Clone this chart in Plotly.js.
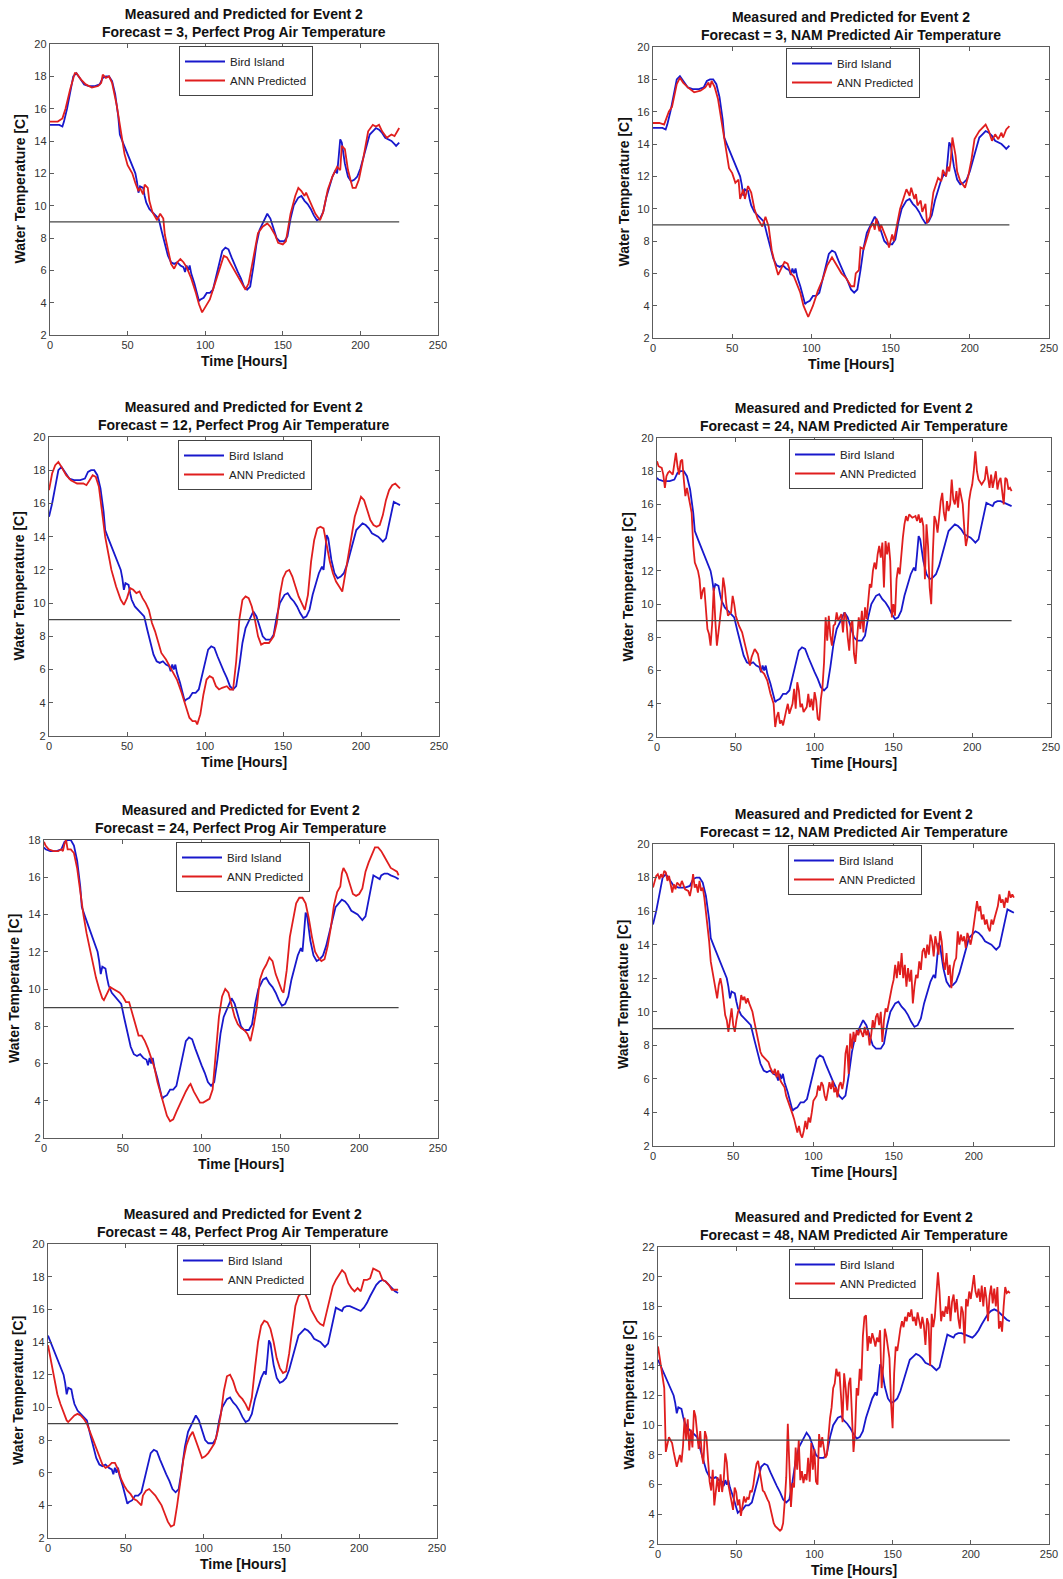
<!DOCTYPE html>
<html><head><meta charset="utf-8">
<script src="https://cdn.plot.ly/plotly-3.0.1.min.js"></script>
<style>html,body{margin:0;padding:0;background:#fff}</style>
</head><body><div id="chart" style="width:1063px;height:1579px"></div>
<script>
// ---------------- DATA ----------------
const timeTicks = [0, 50, 100, 150, 200, 250];
const thresholdTemp = 9;
const thresholdSpan = [0, 225];
const seriesNames = ['Bird Island', 'ANN Predicted'];

// Measured water temperature at Bird Island, [hour, degC], hours as plotted in the 3-hour-forecast panels
const birdIsland = [[0,15.0],[3,15.0],[6,15.0],[8,14.9],[9,15.2],[11,16.0],[13,17.0],[15,18.0],[17,18.2],[19,17.9],[21,17.6],[22,17.5],[25,17.4],[29,17.4],[32,17.5],[34,17.9],[36,18.0],[38,18.0],[40,17.7],[42,16.9],[44,15.5],[45,14.4],[47,13.9],[49,13.4],[51,12.9],[53,12.4],[55,12.0],[56,11.5],[57,10.8],[58,11.2],[60,11.1],[61,10.6],[62,10.2],[64,9.8],[66,9.6],[68,9.4],[70,9.2],[72,8.4],[74,7.6],[76,6.9],[78,6.5],[80,6.4],[82,6.5],[84,6.3],[86,6.2],[87,5.9],[88,6.3],[89,6.0],[90,6.3],[91,5.8],[93,5.2],[95,4.5],[96,4.1],[97,4.2],[99,4.3],[101,4.6],[103,4.6],[105,4.8],[107,5.6],[109,6.5],[111,7.2],[113,7.4],[115,7.3],[117,6.8],[119,6.3],[121,5.9],[123,5.5],[125,5.0],[127,4.8],[129,5.0],[131,6.2],[133,7.6],[135,8.5],[137,8.9],[139,9.3],[140,9.5],[142,9.2],[144,8.6],[146,8.0],[148,7.8],[151,7.8],[153,8.1],[155,9.2],[157,10.0],[160,10.5],[162,10.6],[164,10.3],[166,10.1],[168,9.8],[170,9.4],[172,9.1],[174,9.2],[176,9.6],[178,10.5],[180,11.2],[182,11.8],[184,12.2],[185,12.0],[186,13.0],[187,14.1],[188,13.9],[189,13.2],[190,12.6],[192,11.8],[194,11.5],[196,11.6],[198,11.8],[200,12.3],[202,13.0],[204,13.8],[206,14.4],[208,14.6],[210,14.8],[212,14.7],[214,14.5],[216,14.2],[218,14.1],[220,14.0],[222,13.8],[223,13.7],[225,13.9],[227,14.8],[229,15.7],[230,16.1],[232,16.0],[234,15.9],[235,16.1],[237,16.2],[239,16.2],[241,16.1],[244,16.0],[246,15.9],[248,16.1],[250,16.4],[252,16.8],[254,17.2],[256,17.5],[258,17.7],[260,17.8],[262,17.7],[264,17.5],[266,17.3],[268,17.1],[270,17.0]];

// ANN predicted water temperature, [hour, degC]
const annPP3 = [[0,15.2],[5,15.2],[8,15.4],[10,16],[13,17.2],[16,18.2],[17,18.2],[20,17.8],[23,17.5],[27,17.3],[31,17.4],[33,17.6],[34,18.1],[36,17.9],[38,18.0],[40,17.6],[43,16.2],[46,14.3],[48,13.2],[50,12.5],[53,12.0],[55,11.4],[57,10.9],[58,11.1],[60,10.7],[61,11.3],[63,11.1],[64,10.3],[66,9.6],[69,9.1],[71,9.5],[73,9.2],[74,8.2],[76,7.3],[78,6.4],[80,6.1],[82,6.5],[84,6.7],[86,6.5],[88,6.2],[91,5.5],[94,4.6],[96,3.9],[98,3.4],[100,3.7],[103,4.2],[106,5.1],[109,6.0],[112,6.9],[114,6.8],[117,6.3],[120,5.8],[123,5.3],[126,4.8],[128,5.2],[131,6.8],[134,8.3],[137,8.7],[140,8.9],[142,8.7],[145,8.2],[147,7.7],[150,7.6],[152,7.8],[155,9.5],[158,10.6],[160,11.1],[162,10.9],[164,10.6],[165,10.8],[168,10.1],[171,9.5],[174,9.1],[176,9.6],[179,11.0],[182,11.8],[185,12.4],[187,12.2],[188,13.7],[190,13.5],[192,12.2],[195,11.1],[197,11.1],[199,11.6],[202,13.0],[205,14.6],[208,15.0],[210,14.9],[212,15.0],[214,14.6],[217,14.2],[220,14.4],[222,14.3],[225,14.8]];

const annNAM3 = [[0,15.3],[4,15.3],[7,15.2],[10,16.0],[12,16.3],[15,17.7],[17,18.1],[19,17.8],[22,17.5],[26,17.2],[30,17.3],[33,17.5],[35,17.8],[36,17.5],[37,17.9],[39,17.5],[41,16.8],[44,15.0],[46,13.6],[48,12.5],[50,12.2],[52,11.6],[54,11.8],[55,10.6],[57,11.2],[58,10.6],[60,11.4],[62,11.0],[64,10.0],[66,9.4],[69,8.9],[71,9.5],[73,8.9],[75,7.4],[77,6.6],[79,5.9],[81,6.3],[83,6.7],[85,6.6],[87,6.0],[89,5.8],[91,5.3],[93,4.8],[95,4.0],[98,3.3],[101,4.0],[104,4.9],[107,5.6],[110,6.5],[113,7.0],[116,6.5],[119,6.0],[122,5.7],[125,5.2],[127,5.2],[128,6.0],[130,6.2],[131,7.6],[133,7.5],[135,8.2],[137,8.8],[139,9.1],[140,8.7],[141,9.4],[143,8.6],[144,9.0],[146,8.5],[148,8.0],[149,7.6],[151,8.4],[152,8.0],[154,9.0],[156,10.0],[158,10.6],[160,11.2],[162,10.8],[163,11.3],[165,10.6],[166,10.9],[167,10.2],[169,10.5],[170,9.8],[172,10.3],[173,9.1],[175,9.5],[177,11.0],[180,11.9],[182,11.7],[183,12.4],[185,12.0],[186,12.6],[187,12.3],[188,13.0],[189,14.4],[191,13.3],[192,12.3],[194,11.7],[197,11.3],[199,12.0],[201,13.0],[203,14.3],[206,14.8],[208,15.0],[210,15.2],[212,14.8],[214,14.2],[216,14.6],[218,14.3],[220,14.7],[221,14.4],[223,14.9],[225,15.1]];

const annPP12 = [[0,16.8],[2,17.8],[4,18.3],[6,18.5],[8,18.2],[11,17.7],[14,17.4],[18,17.2],[22,17.2],[24,17.1],[26,17.4],[28,17.7],[30,17.6],[32,17.0],[34,15.5],[36,14.0],[38,13.0],[40,12.0],[43,11.0],[46,10.2],[48,9.9],[50,10.3],[52,10.9],[54,10.8],[56,10.6],[58,10.7],[60,10.3],[62,10.0],[64,9.6],[66,8.8],[68,8.3],[70,7.6],[72,7.0],[75,6.6],[78,6.1],[80,5.8],[82,5.4],[85,4.6],[88,3.6],[90,3.1],[92,2.9],[94,2.9],[95,2.7],[97,3.3],[99,4.5],[101,5.4],[103,5.6],[105,5.5],[107,5.0],[109,4.8],[111,4.9],[114,5.0],[116,4.8],[118,4.8],[120,6.5],[122,9.0],[124,10.2],[126,10.4],[128,10.3],[130,9.8],[132,9.0],[134,8.0],[136,7.5],[138,7.6],[141,7.6],[144,8.0],[146,8.8],[148,10.5],[150,11.5],[152,11.9],[154,12.0],[156,11.6],[158,11.0],[160,10.4],[162,10.0],[164,9.6],[166,10.5],[168,12.5],[170,13.8],[172,14.5],[174,14.6],[176,14.5],[178,13.5],[180,12.5],[182,11.8],[184,11.3],[186,11.0],[188,10.7],[190,11.8],[192,13.0],[194,14.0],[196,15.2],[198,15.8],[200,16.4],[202,16.2],[204,15.6],[206,15.0],[208,14.7],[210,14.6],[212,14.7],[214,15.3],[216,16.2],[218,16.8],[220,17.1],[222,17.2],[224,17.0],[225,16.9]];

const annNAM24 = [[0,18.6],[1,18.3],[3,18.2],[4,17.8],[5,17.0],[6,17.7],[7,17.9],[8,18.0],[10,17.8],[11,18.6],[12,19.1],[13,18.3],[14,17.8],[15,18.6],[16,18.7],[17,17.5],[18,16.5],[19,17.0],[20,16.5],[22,15.5],[23,13.5],[24,12.5],[26,12.0],[27,11.5],[28,10.3],[29,10.8],[30,11.0],[31,9.5],[32,8.5],[33,8.2],[34,7.5],[35,8.8],[36,11.0],[37,9.0],[38,7.5],[39,8.3],[40,9.0],[41,10.0],[42,11.6],[43,11.0],[44,10.0],[45,9.3],[47,9.5],[48,10.5],[49,10.0],[50,9.3],[52,8.7],[54,8.3],[56,7.5],[58,6.8],[59,6.3],[60,6.8],[62,7.3],[64,7.0],[66,6.0],[68,5.8],[70,5.4],[72,4.6],[74,4.0],[75,2.6],[76,3.2],[77,3.5],[78,2.8],[79,3.0],[80,2.7],[82,3.6],[83,4.0],[84,3.4],[86,4.0],[87,4.9],[88,3.7],[89,5.3],[90,4.8],[91,3.8],[92,4.0],[93,3.5],[95,3.8],[96,4.6],[97,3.8],[98,4.3],[99,3.6],[100,4.7],[101,4.2],[102,3.1],[103,3.0],[104,4.3],[105,5.0],[106,6.5],[107,9.2],[108,7.8],[109,9.3],[110,8.1],[111,7.5],[112,8.7],[113,8.8],[114,9.5],[115,9.0],[117,9.4],[118,8.3],[119,9.5],[120,9.2],[121,8.0],[122,7.2],[123,8.8],[124,9.0],[125,7.0],[126,6.4],[127,8.0],[128,9.2],[129,8.5],[130,9.6],[131,8.3],[132,9.8],[133,9.1],[134,10.2],[135,11.2],[136,11.0],[137,12.0],[138,12.5],[139,12.1],[140,13.0],[141,13.5],[142,12.8],[143,13.7],[144,11.0],[145,13.8],[146,13.0],[147,13.7],[148,12.6],[149,9.2],[150,10.0],[151,9.3],[152,11.5],[153,12.2],[154,11.8],[155,13.0],[156,14.0],[157,14.8],[158,15.3],[159,15.0],[160,15.4],[162,15.2],[164,15.3],[165,15.0],[166,15.4],[167,14.9],[168,15.2],[169,14.7],[170,11.5],[171,14.8],[172,13.5],[173,11.0],[174,10.0],[175,13.0],[176,15.3],[177,15.0],[178,14.3],[179,15.2],[180,16.2],[181,16.7],[182,15.5],[183,15.0],[184,16.2],[185,15.6],[186,16.0],[187,17.5],[188,16.3],[189,16.0],[190,16.8],[191,15.8],[192,17.0],[193,16.5],[194,16.0],[195,14.5],[196,13.5],[197,14.0],[198,16.2],[199,16.8],[200,17.2],[201,18.0],[202,19.2],[203,18.0],[204,17.5],[206,17.2],[208,17.5],[209,18.3],[210,17.6],[211,17.0],[212,17.8],[213,17.0],[214,17.5],[215,18.0],[216,16.9],[217,17.4],[218,17.6],[219,16.8],[220,16.0],[221,17.6],[222,17.5],[223,16.9],[224,17.0],[225,16.8]];

const annPP24 = [[0,17.9],[1,17.7],[3,17.5],[6,17.4],[9,17.4],[11,17.5],[12,17.4],[13,17.8],[14,18.0],[15,17.5],[17,17.5],[19,17.3],[21,16.5],[23,15.2],[25,14.0],[27,13.0],[29,12.2],[31,11.4],[33,10.6],[35,10.0],[37,9.5],[38,9.4],[40,9.8],[42,10.1],[44,10.0],[46,9.9],[48,9.8],[50,9.6],[52,9.3],[54,9.3],[56,8.7],[58,8.0],[60,7.5],[62,7.5],[64,7.2],[66,6.8],[68,6.3],[70,5.8],[72,5.0],[74,4.4],[76,3.7],[78,3.2],[80,2.9],[82,3.0],[84,3.4],[86,3.8],[88,4.2],[90,4.5],[92,4.8],[93,4.9],[95,4.5],[97,4.2],[99,3.9],[101,3.9],[103,4.0],[105,4.1],[107,4.6],[109,6.5],[111,8.5],[113,9.6],[115,10.0],[117,9.8],[119,9.2],[121,8.5],[123,8.1],[125,7.9],[127,7.8],[129,7.6],[131,7.2],[133,8.0],[135,9.0],[137,10.5],[139,11.0],[141,11.3],[143,11.7],[145,11.5],[147,10.8],[149,10.3],[151,9.9],[152,9.8],[154,11.0],[156,12.8],[158,13.8],[160,14.6],[162,14.9],[164,14.9],[166,14.6],[168,13.8],[170,12.8],[172,12.0],[174,11.7],[176,11.5],[178,11.6],[180,12.3],[182,13.3],[184,14.5],[186,15.2],[188,15.5],[189,16.2],[190,16.5],[192,16.2],[194,15.6],[196,15.1],[198,15.0],[200,15.1],[202,15.4],[204,16.3],[206,16.8],[208,17.2],[210,17.6],[212,17.6],[214,17.4],[216,17.1],[218,16.8],[220,16.5],[222,16.4],[224,16.3],[225,16.1]];

const annNAM12 = [[0,17.4],[1,17.8],[2,18.1],[3,18.2],[4,17.9],[5,18.2],[6,18.0],[7,18.4],[8,18.3],[9,17.8],[10,18.1],[11,17.6],[12,17.1],[13,17.6],[14,17.3],[15,17.7],[17,17.5],[18,17.8],[20,17.3],[22,17.2],[23,16.9],[24,17.4],[25,18.2],[26,17.4],[27,17.6],[28,17.1],[29,17.8],[30,17.2],[31,17.4],[32,16.8],[33,16.0],[34,15.0],[35,14.2],[36,13.0],[37,12.5],[38,12.0],[39,11.4],[40,10.8],[41,11.6],[42,12.0],[43,11.5],[44,10.5],[45,9.8],[46,9.5],[47,8.8],[48,9.5],[49,10.2],[50,9.2],[51,8.8],[52,9.5],[53,10.0],[54,10.2],[55,11.0],[56,10.7],[57,10.9],[58,10.5],[59,10.8],[60,10.5],[61,10.3],[62,10.0],[63,9.5],[64,9.0],[65,8.7],[66,8.0],[67,7.6],[68,7.4],[70,7.2],[72,7.0],[73,6.7],[75,6.3],[76,6.6],[77,6.1],[78,6.5],[79,6.0],[80,5.8],[82,5.5],[83,5.0],[85,4.5],[86,4.2],[87,3.9],[88,3.6],[89,3.2],[90,2.8],[91,3.2],[92,2.7],[93,2.5],[94,2.9],[95,3.5],[96,3.0],[97,3.7],[98,3.4],[99,4.0],[100,4.7],[102,5.0],[103,5.6],[104,5.3],[105,5.8],[106,5.6],[107,5.0],[108,4.7],[109,5.3],[110,5.8],[111,5.4],[112,5.9],[113,5.2],[114,5.5],[115,4.9],[116,5.6],[117,5.8],[118,5.4],[119,5.9],[120,7.5],[121,8.0],[122,6.3],[123,8.7],[124,7.8],[125,8.8],[126,8.2],[127,8.9],[128,8.6],[129,9.0],[130,8.8],[131,8.5],[132,9.1],[133,8.6],[134,8.9],[135,8.0],[136,8.6],[137,9.5],[138,9.0],[139,9.7],[140,9.9],[141,9.2],[142,10.0],[143,8.2],[144,9.5],[145,10.2],[146,10.0],[147,10.6],[148,11.0],[149,11.5],[150,11.9],[151,12.8],[152,12.0],[153,13.0],[154,12.2],[155,13.5],[156,12.0],[157,12.8],[158,11.5],[159,12.6],[160,11.8],[161,12.5],[162,10.5],[163,11.5],[164,12.2],[165,12.0],[166,13.0],[167,12.5],[168,13.6],[169,13.8],[170,13.2],[171,14.0],[172,13.4],[173,14.6],[174,14.2],[175,13.3],[176,14.5],[177,14.0],[178,13.4],[179,14.8],[180,14.2],[181,13.0],[182,12.5],[183,13.5],[184,12.2],[185,12.8],[186,11.4],[187,12.5],[188,13.0],[189,13.2],[190,14.8],[191,14.0],[192,14.6],[193,14.2],[194,14.5],[195,13.8],[196,14.7],[197,14.4],[198,14.0],[199,14.5],[200,15.3],[201,15.8],[202,16.6],[203,16.0],[204,16.3],[205,15.5],[206,15.8],[207,15.2],[208,15.5],[209,15.0],[210,14.8],[211,15.5],[212,15.2],[213,15.6],[214,16.0],[215,16.3],[216,17.0],[217,16.5],[218,16.7],[219,16.2],[220,16.8],[221,16.5],[222,17.2],[223,16.8],[224,17.0],[225,16.8]];

const annPP48 = [[0,13.8],[2,12.8],[4,11.8],[6,10.8],[8,10.2],[10,9.7],[12,9.2],[13,9.1],[15,9.3],[17,9.5],[19,9.6],[21,9.5],[23,9.3],[25,9.0],[27,8.5],[29,8.0],[31,7.5],[33,7.0],[35,6.5],[37,6.3],[39,6.4],[41,6.6],[43,6.6],[45,6.2],[47,5.6],[49,5.2],[51,4.9],[53,4.7],[55,4.4],[57,4.3],[59,4.1],[60,4.0],[61,4.6],[63,4.9],[65,5.0],[67,4.8],[69,4.6],[71,4.3],[73,4.0],[75,3.5],[77,3.0],[79,2.7],[81,2.8],[83,4.0],[85,5.5],[87,6.8],[89,7.7],[91,8.2],[93,8.5],[95,8.0],[97,7.4],[99,6.9],[101,7.0],[103,7.2],[105,7.5],[107,7.8],[109,8.5],[111,9.5],[113,11.0],[115,11.9],[117,12.0],[119,11.6],[121,11.0],[123,10.7],[125,10.5],[127,10.2],[129,9.8],[131,10.6],[133,12.4],[135,14.0],[137,15.0],[139,15.3],[141,15.2],[143,14.8],[145,14.0],[147,13.0],[149,12.4],[151,12.1],[153,12.2],[155,13.3],[157,14.8],[159,16.2],[161,16.8],[163,17.0],[165,17.0],[167,16.6],[169,16.0],[171,15.6],[173,15.3],[175,15.1],[177,15.0],[179,15.8],[181,16.7],[183,17.4],[185,17.8],[187,18.1],[189,18.4],[191,18.2],[193,17.6],[195,17.3],[197,17.1],[199,17.3],[201,17.1],[203,17.8],[205,17.8],[207,17.9],[209,18.5],[211,18.4],[213,18.3],[215,17.8],[217,17.7],[219,17.5],[221,17.2],[223,17.2],[225,17.2]];

const annNAM48 = [[0,15.3],[1,14.6],[2,14.0],[3,13.5],[4,12.5],[5,8.2],[6,8.6],[7,9.2],[8,9.0],[9,8.8],[10,8.2],[11,7.6],[12,7.2],[13,7.6],[14,8.0],[15,7.5],[16,8.6],[17,10.5],[18,9.0],[19,10.4],[20,8.3],[21,9.7],[22,8.5],[23,11.0],[24,10.6],[25,9.5],[26,8.4],[27,9.6],[28,8.0],[29,7.4],[30,9.6],[31,9.2],[32,7.5],[33,6.2],[34,5.6],[35,7.0],[36,4.6],[37,5.6],[38,6.5],[39,5.5],[40,6.7],[41,5.5],[42,6.3],[43,8.1],[44,7.5],[45,6.0],[46,5.5],[47,4.8],[48,4.3],[49,5.8],[50,5.5],[51,4.6],[52,5.0],[53,3.9],[54,4.6],[55,5.2],[56,4.8],[57,5.1],[58,5.0],[59,5.6],[60,5.5],[61,6.0],[62,6.8],[63,7.4],[64,7.6],[65,7.0],[66,6.2],[67,5.6],[68,5.5],[69,5.2],[70,5.0],[71,4.8],[72,4.3],[73,3.8],[74,3.4],[75,3.2],[76,3.1],[77,3.0],[78,2.9],[79,3.0],[80,3.4],[81,4.8],[82,6.5],[83,10.1],[84,7.0],[85,4.5],[86,6.1],[87,5.8],[88,8.5],[89,7.0],[90,9.0],[91,6.3],[92,6.9],[93,6.1],[94,6.7],[95,6.3],[96,7.8],[97,6.2],[98,8.8],[99,7.0],[100,8.4],[101,6.2],[102,6.0],[103,9.4],[104,8.5],[105,9.2],[106,8.5],[107,7.8],[108,8.0],[109,9.5],[110,10.5],[111,11.2],[112,12.5],[113,12.8],[114,13.8],[115,13.3],[116,13.6],[117,12.0],[118,10.2],[119,13.5],[120,12.5],[121,11.0],[122,12.8],[123,13.2],[124,11.0],[125,8.2],[126,9.5],[127,12.5],[128,12.0],[129,13.8],[130,13.0],[131,16.0],[132,17.3],[133,17.4],[134,15.0],[135,16.0],[136,15.5],[137,16.2],[138,15.8],[139,15.3],[140,15.9],[141,15.6],[142,16.4],[143,12.5],[144,14.0],[145,16.5],[146,16.0],[147,15.2],[148,14.5],[149,11.5],[150,9.8],[151,13.5],[152,15.3],[153,15.0],[154,15.8],[155,16.5],[156,17.0],[157,16.6],[158,17.3],[159,17.0],[160,17.6],[161,17.3],[162,17.8],[163,17.0],[164,17.3],[165,16.7],[166,17.6],[167,17.0],[168,16.5],[169,17.3],[170,16.7],[171,15.4],[172,17.2],[173,16.8],[174,14.0],[175,17.5],[176,16.6],[177,17.3],[178,19.0],[179,20.3],[180,19.0],[181,17.0],[182,17.7],[183,17.3],[184,18.0],[185,17.5],[186,18.7],[187,17.0],[188,18.3],[189,18.8],[190,17.6],[191,18.5],[192,17.2],[193,16.5],[194,18.0],[195,17.6],[196,15.5],[197,18.5],[198,18.0],[199,19.0],[200,18.5],[201,19.2],[202,20.1],[203,19.0],[204,18.6],[205,19.2],[206,18.3],[207,19.4],[208,18.0],[209,19.3],[210,18.5],[211,17.0],[212,18.7],[213,19.4],[214,18.2],[215,19.2],[216,18.0],[217,19.3],[218,16.5],[219,17.0],[220,16.3],[221,18.0],[222,19.3],[223,18.9],[224,19.0],[225,18.9]];

// Panels: forecast lead (hours), air temperature source, ANN prediction, y-axis top
const forecastLeads = [3, 3, 12, 24, 24, 12, 48, 48];
const airSources = ['Perfect Prog', 'NAM Predicted', 'Perfect Prog', 'NAM Predicted', 'Perfect Prog', 'NAM Predicted', 'Perfect Prog', 'NAM Predicted'];
const predictions = [annPP3, annNAM3, annPP12, annNAM24, annPP24, annNAM12, annPP48, annNAM48];
const yAxisTop = [20, 20, 20, 20, 18, 20, 20, 22];

// ---------------- LAYOUT ----------------
const W = 1063, H = 1579;
// plot boxes in px: [left, right, top, bottom]
const boxes = [[50,438,44,335],[653,1049,47,338],[49,439,437,736],[657,1051,438,737],[44,438,840,1138],[653,1054,844,1146],[48,437,1244,1538],[658,1049,1247,1544]];
const legendCorners = [[179,46],[786,48],[178,440],[789,439],[176,842],[788,845],[177,1245],[789,1249]];

const FONT = 'Liberation Sans, Arial, Helvetica, sans-serif';
const BLUE = '#1818cc', RED = '#e01e1e';

const traces = [];
const layout = {
  width: W, height: H, margin: {l:0, r:0, t:0, b:0},
  paper_bgcolor: '#ffffff', plot_bgcolor: '#ffffff',
  showlegend: true, annotations: [], font: {family: FONT}
};

forecastLeads.forEach((lead, i) => {
  const k = i + 1, sfx = k === 1 ? '' : String(k);
  const [l, r, t, b] = boxes[i];
  const shift = lead - 3;
  const mx = [], my = [];
  birdIsland.forEach(([h, v]) => { const x = h - shift; if (x >= 0 && x <= 225) { mx.push(x); my.push(v); } });
  const legendId = 'legend' + sfx;
  traces.push({type:'scatter', mode:'lines', x: mx, y: my, xaxis:'x'+sfx, yaxis:'y'+sfx,
    name: seriesNames[0], legend: legendId, line:{color: BLUE, width: 1.8}, hoverinfo:'skip'});
  const pred = predictions[i];
  traces.push({type:'scatter', mode:'lines', x: pred.map(p => p[0]), y: pred.map(p => p[1]), xaxis:'x'+sfx, yaxis:'y'+sfx,
    name: seriesNames[1], legend: legendId, line:{color: RED, width: 1.8}, hoverinfo:'skip'});
  traces.push({type:'scatter', mode:'lines', x: thresholdSpan, y: [thresholdTemp, thresholdTemp], xaxis:'x'+sfx, yaxis:'y'+sfx,
    showlegend:false, line:{color:'#454545', width:1.3}, hoverinfo:'skip'});

  const common = {showgrid:false, zeroline:false, showline:true, linecolor:'#5c5c5c', linewidth:1.2,
    mirror:'allticks', ticks:'inside', ticklen:4, tickcolor:'#5c5c5c', tickwidth:1,
    tickfont:{family: FONT, size: 11, color:'#333'}, fixedrange:true};
  layout['xaxis'+sfx] = Object.assign({}, common, {domain:[l/W, r/W], anchor:'y'+sfx, range:[0,250], tickmode:'array', tickvals: timeTicks, ticktext: timeTicks.map(String)});
  const yTicks = []; for (let v = 2; v <= yAxisTop[i]; v += 2) yTicks.push(v);
  layout['yaxis'+sfx] = Object.assign({}, common, {domain:[1-b/H, 1-t/H], anchor:'x'+sfx, range:[2, yAxisTop[i]], tickmode:'array', tickvals: yTicks, ticktext: yTicks.map(String)});

  const [lx, ly] = legendCorners[i];
  layout[legendId] = {x: lx/W, y: 1-ly/H, xanchor:'left', yanchor:'top', bgcolor:'#ffffff',
    bordercolor:'#444', borderwidth:1, font:{family: FONT, size: 11.5, color:'#222'}, itemwidth: 40, tracegroupgap: 0};

  const cx = (l + r) / 2 / W;
  layout.annotations.push({xref:'paper', yref:'paper', x: cx, y: 1 - t/H, xanchor:'center', yanchor:'bottom', yshift: 2,
    text: '<b>Measured and Predicted for Event 2</b><br><b>Forecast = ' + lead + ', ' + airSources[i] + ' Air Temperature</b>',
    showarrow:false, font:{family: FONT, size: 14, color:'#111'}});
  layout.annotations.push({xref:'paper', yref:'paper', x: cx, y: 1 - (b + 26)/H, xanchor:'center', yanchor:'middle',
    text:'<b>Time [Hours]</b>', showarrow:false, font:{family: FONT, size: 14, color:'#111'}});
  layout.annotations.push({xref:'paper', yref:'paper', x: (l - 30)/W, y: 1 - (t + b)/2/H, xanchor:'center', yanchor:'middle',
    textangle:-90, text:'<b>Water Temperature [C]</b>', showarrow:false, font:{family: FONT, size: 14, color:'#111'}});
});

Plotly.newPlot('chart', traces, layout, {displayModeBar:false, staticPlot:true});
</script>
</body></html>
